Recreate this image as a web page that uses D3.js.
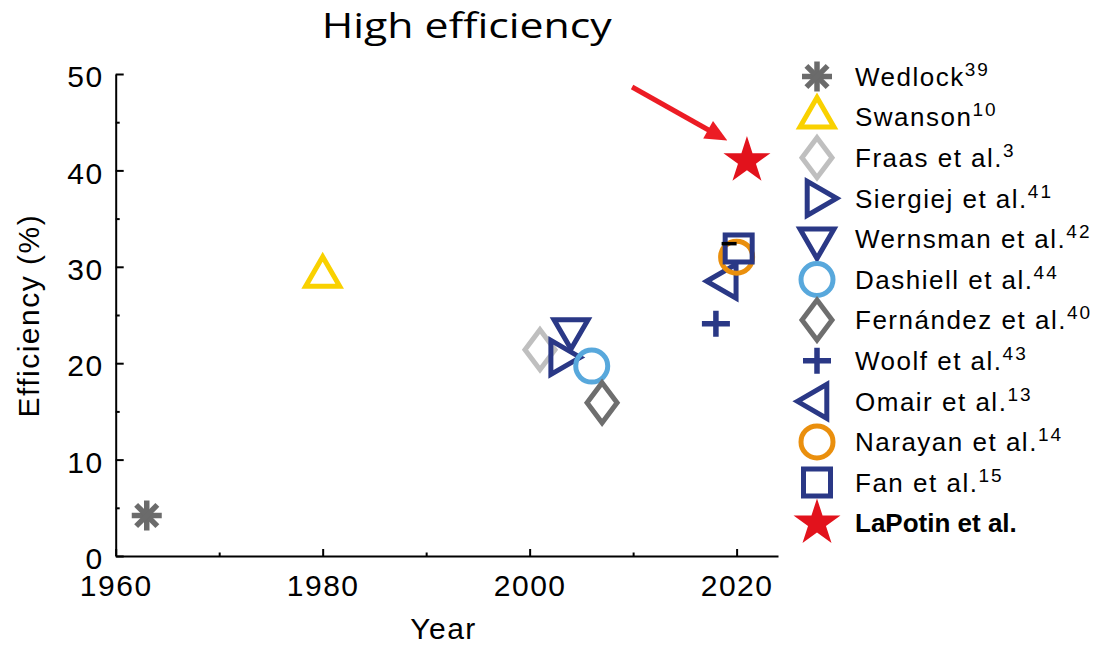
<!DOCTYPE html>
<html>
<head>
<meta charset="utf-8">
<script src="https://cdn.jsdelivr.net/npm/d3@7"></script>
<style>
  body { margin: 0; background: #fff; }
  svg { display: block; }
</style>
</head>
<body>
<div id="chart-area"></div>
<script>
const canvas_width = 1099;
const canvas_height = 649;

// data
const studies = ['Wedlock', 'Swanson', 'Fraas et al.', 'Siergiej et al.', 'Wernsman et al.', 'Dashiell et al.',
    'Fernández et al.', 'Woolf et al.', 'Omair et al.', 'Narayan et al.', 'Fan et al.', 'LaPotin et al.'];
const refs = ['39', '10', '3', '41', '42', '44', '40', '43', '13', '14', '15', ''];
const years = [1963, 1980, 2001, 2003, 2004, 2006, 2007, 2018, 2019, 2020, 2020.2, 2021];
const efficiencies = [4.2, 29, 21.4, 20.6, 23.5, 19.7, 15.9, 24.1, 28.5, 31.0, 31.9, 41.0];

const xTicks = [1960, 1980, 2000, 2020];
const xMinor = [1970, 1990, 2010];
const yTicks = [0, 10, 20, 30, 40, 50];
const yMinor = [5, 15, 25, 35, 45];

// annotation (data units)
const arrowFrom = [2009.9, 48.65];
const arrowTo = [2019.1, 43.1];
const fanBar = [2018.55, 2020.0, 32.4];

// marker styles, one per study
const navy = '#2a3886';
const markers = [
    { shape: 'asterisk', color: '#6b6b6b' },
    { shape: 'triUp', color: '#f9d100' },
    { shape: 'diamond', color: '#bfbfbf' },
    { shape: 'triRight', color: navy },
    { shape: 'triDown', color: navy },
    { shape: 'circle', color: '#58a8dc' },
    { shape: 'diamond', color: '#6e6e6e' },
    { shape: 'plus', color: navy },
    { shape: 'triLeft', color: navy },
    { shape: 'circle', color: '#ea8f0d' },
    { shape: 'square', color: navy },
    { shape: 'star', color: '#e2121c' }
];

const data = studies.map((s, i) => ({ name: s, ref: refs[i], year: years[i], eff: efficiencies[i], m: markers[i] }));

let canvas = d3.select('#chart-area').append('svg')
    .attr('width', canvas_width)
    .attr('height', canvas_height);

let x = d3.scaleLinear().domain([1960, 2024]).range([115.7, 778]);
let y = d3.scaleLinear().domain([0, 50]).range([556, 74]);

const axisFont = "'Liberation Sans', Arial, Helvetica, sans-serif";

function drawMarker(g, m) {
    const sw = 5;
    if (m.shape === 'asterisk') {
        [0, 45, 90, 135].forEach((a) => {
            g.append('line')
                .attr('x1', -15).attr('x2', 15).attr('y1', 0).attr('y2', 0)
                .attr('transform', `rotate(${a})`)
                .attr('stroke', m.color).attr('stroke-width', 5.5);
        });
    } else if (m.shape.startsWith('tri')) {
        const h = 29.4;
        const rot = { triUp: 0, triRight: 90, triDown: 180, triLeft: 270 }[m.shape];
        g.append('path')
            .attr('d', `M0,${-2 * h / 3}L17,${h / 3}L-17,${h / 3}Z`)
            .attr('transform', `rotate(${rot})`)
            .attr('fill', 'none').attr('stroke', m.color)
            .attr('stroke-width', sw).attr('stroke-linejoin', 'miter');
    } else if (m.shape === 'diamond') {
        g.append('path')
            .attr('d', 'M0,-20L15,0L0,20L-15,0Z')
            .attr('fill', 'none').attr('stroke', m.color)
            .attr('stroke-width', sw).attr('stroke-linejoin', 'miter');
    } else if (m.shape === 'circle') {
        g.append('circle').attr('r', 16)
            .attr('fill', 'none').attr('stroke', m.color).attr('stroke-width', sw);
    } else if (m.shape === 'plus') {
        g.append('path').attr('d', 'M-14,0H14M0,-13V13')
            .attr('stroke', m.color).attr('stroke-width', 5.5);
    } else if (m.shape === 'square') {
        g.append('rect').attr('x', -13.5).attr('y', -13.5).attr('width', 27).attr('height', 27)
            .attr('fill', 'none').attr('stroke', m.color).attr('stroke-width', sw);
    } else if (m.shape === 'star') {
        g.append('path').attr('d', d3.symbol(d3.symbolStar, 685)())
            .attr('fill', m.color);
    }
}

// axes
let bottomAxis = d3.axisBottom(x).tickValues(xTicks).tickSizeInner(-7).tickSizeOuter(0).tickPadding(19)
    .tickFormat(d3.format('d'));
let gx = canvas.append('g').attr('class', 'bottom axis')
    .attr('transform', `translate(0, ${y(0)})`)
    .call(bottomAxis);
canvas.append('g').attr('transform', `translate(0, ${y(0)})`)
    .call(d3.axisBottom(x).tickValues(xMinor).tickSizeInner(-3.5).tickSizeOuter(0).tickFormat(''))
    .call((g) => g.select('.domain').remove());

let leftAxis = d3.axisLeft(y).tickValues(yTicks).tickSizeInner(-8).tickSizeOuter(0).tickPadding(12);
let gy = canvas.append('g').attr('class', 'left axis')
    .attr('transform', `translate(${x(1960)}, 0)`)
    .call(leftAxis);
canvas.append('g').attr('transform', `translate(${x(1960)}, 0)`)
    .call(d3.axisLeft(y).tickValues(yMinor).tickSizeInner(-4).tickSizeOuter(0).tickFormat(''))
    .call((g) => g.select('.domain').remove());

canvas.selectAll('.tick line, .domain').attr('stroke', '#000').attr('stroke-width', 2);
canvas.selectAll('.tick text')
    .attr('fill', '#000')
    .attr('font-family', axisFont)
    .attr('font-size', '30px')
    .attr('letter-spacing', '1.5px');
gy.selectAll('.tick text').attr('dy', '0.42em');

canvas.append('text')
    .attr('x', 443.5).attr('y', 639)
    .attr('text-anchor', 'middle')
    .attr('font-family', axisFont).attr('font-size', '30px').attr('letter-spacing', '1.5px')
    .text('Year');

canvas.append('text')
    .attr('transform', 'translate(39, 315.7) rotate(-90)')
    .attr('text-anchor', 'middle')
    .attr('font-family', axisFont).attr('font-size', '30px').attr('letter-spacing', '1.5px')
    .text('Efficiency (%)');

// title
canvas.append('text')
    .attr('x', 321.7).attr('y', 38.3)
    .attr('font-family', "'Open Sans', 'Noto Sans', sans-serif")
    .attr('font-size', '35px')
    .attr('textLength', 290).attr('lengthAdjust', 'spacingAndGlyphs')
    .text('High efficiency');

// points
let points = canvas.append('g').attr('class', 'points');
data.forEach((d) => {
    let g = points.append('g').attr('transform', `translate(${x(d.year)}, ${y(d.eff)})`);
    drawMarker(g, d.m);
});

// small black bar near Fan et al.
canvas.append('line')
    .attr('x1', x(fanBar[0])).attr('x2', x(fanBar[1]))
    .attr('y1', y(fanBar[2])).attr('y2', y(fanBar[2]))
    .attr('stroke', '#000').attr('stroke-width', 3.5);

// arrow
{
    const x0 = x(arrowFrom[0]), y0 = y(arrowFrom[1]);
    const x1 = x(arrowTo[0]), y1 = y(arrowTo[1]);
    const dx = x1 - x0, dy = y1 - y0, len = Math.hypot(dx, dy);
    const ux = dx / len, uy = dy / len;
    const hl = 22, hw = 10;
    const bx = x1 - ux * hl, by = y1 - uy * hl;
    canvas.append('line')
        .attr('x1', x0).attr('y1', y0).attr('x2', bx + ux * 2).attr('y2', by + uy * 2)
        .attr('stroke', '#ec1c24').attr('stroke-width', 5);
    canvas.append('path')
        .attr('d', `M${x1},${y1}L${bx - uy * hw},${by + ux * hw}L${bx + uy * hw},${by - ux * hw}Z`)
        .attr('fill', '#ec1c24');
}

// legend
let legend = canvas.append('g').attr('class', 'legend');
data.forEach((d, i) => {
    const cy = 76.5 + i * 40.6;
    let g = legend.append('g').attr('transform', `translate(817, ${cy})`);
    drawMarker(g, d.m);
    let t = legend.append('text')
        .attr('x', 855).attr('y', cy + 9.3)
        .attr('font-family', axisFont)
        .attr('font-size', '26px');
    if (d.ref === '') {
        t.attr('font-weight', 'bold').text(d.name);
    } else {
        t.append('tspan').attr('letter-spacing', '1.5px').text(d.name);
        t.append('tspan').attr('font-size', '19px').attr('dy', -10).attr('letter-spacing', '2px').text(d.ref);
    }
});
</script>
</body>
</html>
